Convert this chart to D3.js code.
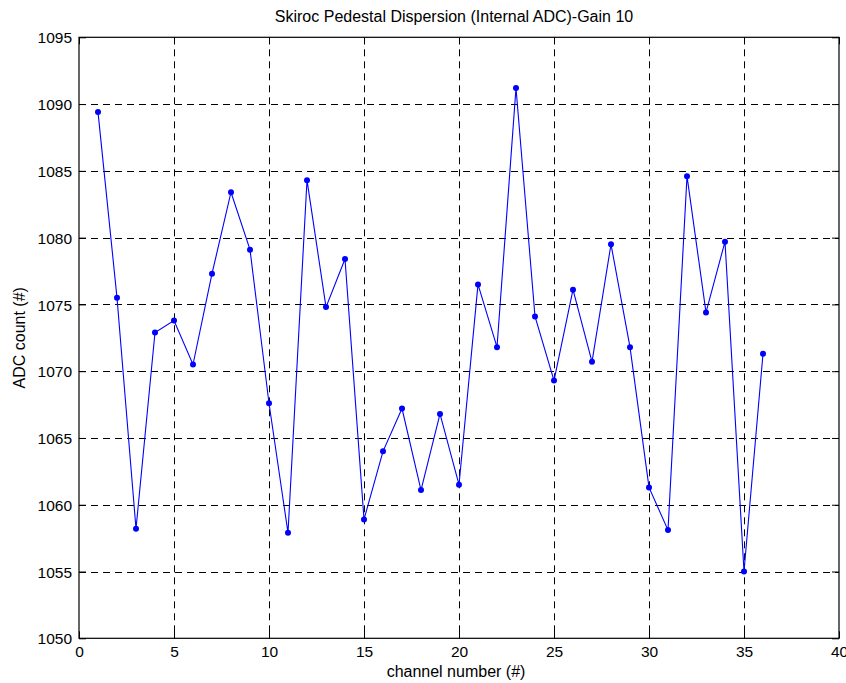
<!DOCTYPE html>
<html>
<head>
<meta charset="utf-8">
<script src="https://cdn.jsdelivr.net/npm/d3@7"></script>
<style>
  html, body { margin: 0; padding: 0; background: #fff; }
  svg { display: block; }
  text { font-family: "Liberation Sans", Arial, Helvetica, sans-serif; fill: #000; }
</style>
</head>
<body>
<svg id="chart" width="846" height="683"></svg>
<script>
const channels = d3.range(1, 37);
const adcCounts = [
  1089.4, 1075.5, 1058.2, 1072.9, 1073.8, 1070.5, 1077.3, 1083.4, 1079.1, 1067.6,
  1057.9, 1084.3, 1074.8, 1078.4, 1058.9, 1064.0, 1067.2, 1061.1, 1066.8, 1061.5,
  1076.5, 1071.8, 1091.2, 1074.1, 1069.3, 1076.1, 1070.7, 1079.5, 1071.8, 1061.3,
  1058.1, 1084.6, 1074.4, 1079.7, 1055.0, 1071.3
];
const xTicks = [0, 5, 10, 15, 20, 25, 30, 35, 40];
const yTicks = [1050, 1055, 1060, 1065, 1070, 1075, 1080, 1085, 1090, 1095];
const titleText = "Skiroc Pedestal Dispersion (Internal ADC)-Gain 10";
const xLabel = "channel number (#)";
const yLabel = "ADC count (#)";

(function () {
const data = channels.map((c, i) => ({ x: c, y: adcCounts[i] }));

const svg = d3.select("#chart");
const pL = 79, pR = 839, pT = 37.3, pB = 638.3;

const x = d3.scaleLinear().domain([0, 40]).range([pL, pR]);
const y = d3.scaleLinear().domain([1050, 1095]).range([pB, pT]);

// grid
const grid = svg.append("g");
grid.selectAll("line.vg").data(xTicks.slice(1, -1)).join("line")
  .attr("x1", d => Math.round(x(d)) + 0.5).attr("x2", d => Math.round(x(d)) + 0.5)
  .attr("y1", pT).attr("y2", pB)
  .attr("stroke", "#000").attr("stroke-width", 1).attr("stroke-dasharray", "7,5");
grid.selectAll("line.hg").data(yTicks.slice(1, -1)).join("line")
  .attr("y1", d => Math.round(y(d)) + 0.5).attr("y2", d => Math.round(y(d)) + 0.5)
  .attr("x1", pL).attr("x2", pR)
  .attr("stroke", "#000").attr("stroke-width", 1).attr("stroke-dasharray", "7,5");

// axes
const tickLen = 7;
const fmt = d3.format("d");
const xAxisB = svg.append("g").attr("transform", `translate(0,${pB})`)
  .call(d3.axisBottom(x).tickValues(xTicks).tickFormat(fmt).tickSizeInner(-tickLen).tickSizeOuter(0).tickPadding(8));
const xAxisT = svg.append("g").attr("transform", `translate(0,${pT})`)
  .call(d3.axisTop(x).tickValues(xTicks).tickSizeInner(-tickLen).tickSizeOuter(0).tickFormat(""));
const yAxisL = svg.append("g").attr("transform", `translate(${pL},0)`)
  .call(d3.axisLeft(y).tickValues(yTicks).tickFormat(fmt).tickSizeInner(-tickLen).tickSizeOuter(0).tickPadding(7));
const yAxisR = svg.append("g").attr("transform", `translate(${pR},0)`)
  .call(d3.axisRight(y).tickValues(yTicks).tickSizeInner(-tickLen).tickSizeOuter(0).tickFormat(""));

[xAxisB, xAxisT, yAxisL, yAxisR].forEach(g => {
  g.select(".domain").remove();
  g.selectAll("line").attr("stroke", "#000");
  g.selectAll("text").attr("font-size", 15.5)
    .attr("font-family", "'Liberation Sans', Arial, sans-serif").attr("fill", "#000");
});
yAxisL.selectAll("text").attr("dy", "0.36em");

// box
svg.append("rect").attr("x", pL).attr("y", pT)
  .attr("width", pR - pL).attr("height", pB - pT)
  .attr("fill", "none").attr("stroke", "#000").attr("stroke-width", 1.2);

// line + markers
const line = d3.line().x(d => x(d.x)).y(d => y(d.y));
svg.append("path").datum(data).attr("d", line)
  .attr("fill", "none").attr("stroke", "#0000ff").attr("stroke-width", 1.1);
svg.append("g").selectAll("circle").data(data).join("circle")
  .attr("cx", d => x(d.x)).attr("cy", d => y(d.y)).attr("r", 3)
  .attr("fill", "#0000ff");

// labels
svg.append("text").attr("x", 454).attr("y", 22).attr("text-anchor", "middle")
  .attr("font-size", 16).text(titleText);
svg.append("text").attr("x", 456).attr("y", 677).attr("text-anchor", "middle")
  .attr("font-size", 16).text(xLabel);
svg.append("text").attr("transform", `translate(25,${(pT + pB) / 2}) rotate(-90)`)
  .attr("text-anchor", "middle").attr("font-size", 16).text(yLabel);
})();
</script>
</body>
</html>
